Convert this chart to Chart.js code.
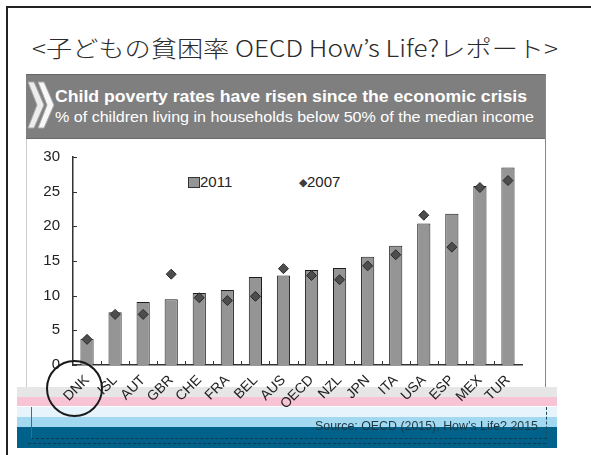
<!DOCTYPE html>
<html>
<head>
<meta charset="utf-8">
<script src="https://cdn.jsdelivr.net/npm/chart.js@4/dist/chart.umd.min.js"></script>
<style>
  body { margin: 0; background: #fff; }
  #page { position: relative; width: 591px; height: 455px; overflow: hidden; background: #fff; }
  .abs { position: absolute; }
  #frame { left: 6px; top: 6px; width: 620px; height: 470px; border-left: 2px solid #222; border-top: 2px solid #222; }
  #title { left: 32px; top: 32px; font-family: "Noto Sans CJK JP", sans-serif; font-weight: 300; font-size: 23px; color: #2b2b2b; white-space: nowrap; line-height: 30px; transform-origin: 0 50%; }
  #panel { left: 26px; top: 74px; width: 518px; height: 313px; border-left: 1px solid #ccc; border-right: 1px solid #888; }
  #band { left: 26px; top: 74px; width: 519px; height: 63px; background: #7f7f7f; border-top: 1px solid #666; border-bottom: 1px solid #6a6a6a; }
  .hd { left: 55px; color: #fff; white-space: nowrap; font-family: "Liberation Sans", Arial, sans-serif; transform-origin: 0 50%; }
  #hd1 { top: 87px; font-size: 16px; font-weight: bold; line-height: 20px; }
  #hd2 { top: 108px; font-size: 14px; line-height: 18px; }
  .strip { left: 17px; width: 540px; }
  .leg { top: 173px; font-family: "Liberation Sans Narrow", "Liberation Sans", sans-serif; font-size: 15px; color: #222; }
  #source { left: 315px; top: 418px; font-family: "Liberation Sans Narrow", "Liberation Sans", sans-serif; font-size: 13px; color: #1c3944; white-space: nowrap; transform-origin: 0 50%; }
  #circle { left: 46px; top: 360px; width: 53px; height: 53px; border: 2.5px solid #1a1a1a; border-radius: 50%; }
  canvas { position: absolute; left: 0; top: 0; }
</style>
</head>
<body>
<div id="page">
  <div class="abs strip" style="top:387px;height:10px;background:#e6e6e6"></div>
  <div class="abs strip" style="top:397px;height:9px;background:#f7c3d5"></div>
  <div class="abs strip" style="top:407px;height:10px;background:#e7f4fb"></div>
  <div class="abs strip" style="top:417px;height:10px;background:#a2d8f0"></div>
  <div class="abs strip" style="top:427px;height:21px;background:#00628a"></div>
  <div class="abs" style="left:31px;top:407px;width:514px;height:31px;border-left:1px solid #3b6f85;border-right:1px dashed #1b4a5e;border-bottom:1px dashed #12394a"></div>
  <div class="abs" style="left:28px;top:443px;width:518px;height:0;border-top:1px dashed #0f3b4d"></div>
  <div id="frame" class="abs"></div>
  <div id="title" class="abs">&lt;子どもの貧困率 OECD How’s Life?レポート&gt;</div>
  <div id="panel" class="abs"></div>
  <div id="band" class="abs"></div>
  <svg class="abs" style="left:27px;top:80px" width="28" height="50">
    <polygon points="1,2 7,2 17,25 7,48 1,48 10,25" fill="#ededed" stroke="#a8a8a8" stroke-width="1"/>
    <polygon points="11,2 17,2 27,25 17,48 11,48 20,25" fill="#f7f7f7" stroke="#a8a8a8" stroke-width="1"/>
  </svg>
  <div id="hd1" class="abs hd">Child poverty rates have risen since the economic crisis</div>
  <div id="hd2" class="abs hd">% of children living in households below 50% of the median income</div>
  <div class="abs leg" style="left:188px">
    <span style="display:inline-block;width:10px;height:9px;background:#959595;border:1px solid #333;vertical-align:-1px"></span><span>2011</span>
  </div>
  <div class="abs leg" style="left:299px">
    <span style="font-size:11px;color:#3d3d3d;vertical-align:1px">◆</span><span>2007</span>
  </div>
  <canvas id="myChart" width="591" height="455"></canvas>
  <div id="source" class="abs">Source: OECD (2015), How’s Life? 2015</div>
  <div id="circle" class="abs"></div>
</div>
<script>
// Dades llegides del gràfic (taxa de pobresa infantil, %)
const countries = ['DNK', 'ISL', 'AUT', 'GBR', 'CHE', 'FRA', 'BEL', 'AUS', 'OECD', 'NZL', 'JPN', 'ITA', 'USA', 'ESP', 'MEX', 'TUR'];
const rate2011 = [3.8, 7.6, 9.1, 9.5, 10.4, 10.8, 12.7, 12.9, 13.7, 14.0, 15.6, 17.2, 20.4, 21.8, 25.8, 28.5];
const rate2007 = [3.7, 7.3, 7.3, 13.1, 9.7, 9.3, 9.9, 13.9, 12.9, 12.3, 14.3, 15.9, 21.6, 17.0, 25.6, 26.6];
const yTicks = [0, 5, 10, 15, 20, 25, 30];

// Ajusta l'amplada d'un text a la de l'original
const fitWidth = (id, w) => {
    const el = document.getElementById(id);
    const r = el.getBoundingClientRect().width;
    el.style.transform = `scaleX(${w / r})`;
};
fitWidth('title', 526);
fitWidth('hd1', 472);
fitWidth('hd2', 479);
fitWidth('source', 223);

// Petites marques cap a dins dels eixos
const innerTicks = {
    id: 'innerTicks',
    afterDraw(chart) {
        const { ctx, scales: { x, y } } = chart;
        ctx.save();
        ctx.strokeStyle = '#333';
        ctx.lineWidth = 1;
        ctx.beginPath();
        yTicks.forEach(v => {
            const py = Math.round(y.getPixelForValue(v)) + 0.5;
            ctx.moveTo(x.left, py);
            ctx.lineTo(x.left + 4, py);
        });
        for (let i = 1; i < countries.length; i++) {
            const px = Math.round(x.getPixelForValue(i - 0.5)) + 0.5;
            ctx.moveTo(px, y.bottom);
            ctx.lineTo(px, y.bottom - 4);
        }
        ctx.stroke();
        ctx.restore();
    }
};

const ctx = document.getElementById('myChart').getContext('2d');
new Chart(ctx, {
    type: 'bar',
    data: {
        labels: countries,
        datasets: [{
            label: '2011',
            data: rate2011,
            backgroundColor: '#959595',
            borderColor: '#1e1e1e',
            borderWidth: 1,
            borderSkipped: 'bottom',
            barPercentage: 0.47,
            categoryPercentage: 1,
            order: 2
        }, {
            label: '2007',
            type: 'line',
            data: rate2007,
            showLine: false,
            pointStyle: 'rectRot',
            pointRadius: 5,
            pointBackgroundColor: '#4d4d4d',
            pointBorderColor: '#2a2a2a',
            pointBorderWidth: 1,
            order: 1
        }]
    },
    options: {
        responsive: false,
        animation: false,
        layout: { padding: { left: 0, top: 157, right: 69, bottom: 0 } },
        plugins: { legend: { display: false }, tooltip: { enabled: false } },
        scales: {
            x: {
                offset: true,
                afterFit: (scale) => { scale.height = 90; },
                grid: { display: false, drawTicks: false },
                border: { display: true, color: '#333', width: 1.5 },
                ticks: {
                    autoSkip: false,
                    minRotation: 45,
                    maxRotation: 45,
                    padding: 7,
                    color: '#222',
                    font: { family: '"Liberation Sans Narrow", "Liberation Sans", sans-serif', size: 14 }
                }
            },
            y: {
                min: 0,
                max: 30,
                afterFit: (scale) => { scale.width = 73; },
                afterBuildTicks: (scale) => { scale.ticks = yTicks.map(v => ({ value: v })); },
                grid: { display: false, drawTicks: false },
                border: { display: true, color: '#333', width: 1.5 },
                ticks: {
                    padding: 13,
                    color: '#222',
                    font: { family: '"Liberation Sans Narrow", "Liberation Sans", sans-serif', size: 15 }
                }
            }
        }
    },
    plugins: [innerTicks]
});
</script>
</body>
</html>
